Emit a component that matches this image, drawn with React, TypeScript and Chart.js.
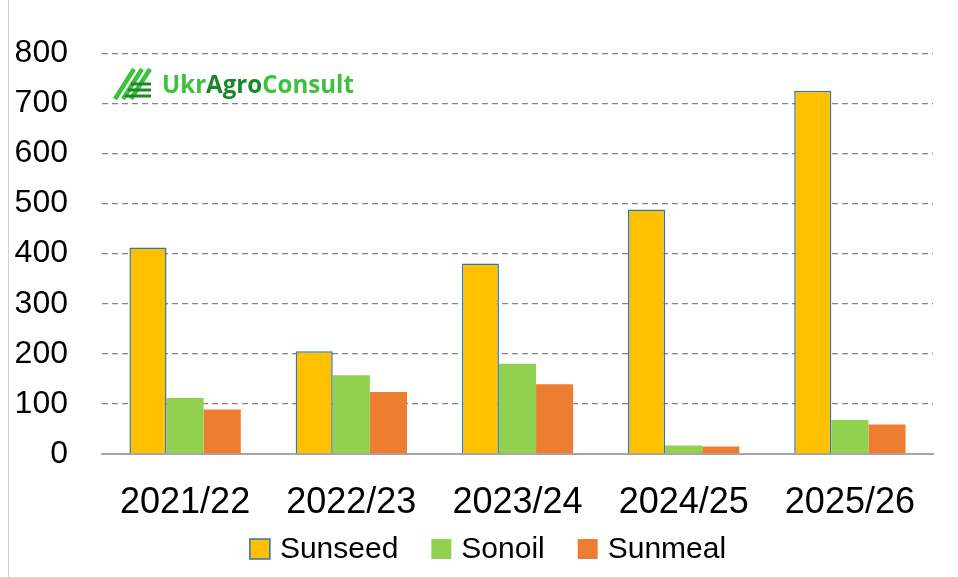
import React, { useEffect, useRef } from "react";
import { Chart, registerables } from "chart.js";

Chart.register(...registerables);

const categories = ["2021/22", "2022/23", "2023/24", "2024/25", "2025/26"];
const sunseed = [412, 205, 380, 488, 725];
const sonoil = [112, 157, 180, 17, 68];
const sunmeal = [89, 124, 139, 15, 59];
const seriesNames = ["Sunseed", "Sonoil", "Sunmeal"];
const yTicks = [0, 100, 200, 300, 400, 500, 600, 700, 800];

const FONT = "'Liberation Sans', Arial, sans-serif";

const decorPlugin = {
  id: "decor",
  beforeDraw(chart: any) {
    const ctx = chart.ctx;
    ctx.save();
    ctx.fillStyle = "#ffffff";
    ctx.fillRect(0, 0, chart.width, chart.height);
    ctx.strokeStyle = "#d0d0d0";
    ctx.lineWidth = 1;
    ctx.beginPath();
    ctx.moveTo(8.5, 0);
    ctx.lineTo(8.5, chart.height);
    ctx.stroke();
    ctx.restore();
  },
  afterDraw(chart: any) {
    const ctx = chart.ctx;
    ctx.save();
    // logo icon
    const light = "#3cc13c";
    const dark = "#1c862b";
    ctx.lineCap = "butt";
    ctx.strokeStyle = light;
    ctx.lineWidth = 4.5;
    for (let i = 0; i < 3; i++) {
      const ox = 115 + i * 8;
      ctx.beginPath();
      ctx.moveTo(ox, 99);
      ctx.lineTo(ox + 19, 69);
      ctx.stroke();
    }
    ctx.strokeStyle = dark;
    ctx.lineWidth = 3;
    for (let i = 0; i < 3; i++) {
      const y = 84 + i * 6;
      ctx.beginPath();
      ctx.moveTo(131 - i * 3, y);
      ctx.lineTo(151, y);
      ctx.stroke();
    }
    // logo text
    const parts = [
      { t: "Ukr", c: light },
      { t: "Agro", c: dark },
      { t: "Consult", c: light },
    ];
    let size = 22;
    ctx.font = `bold ${size}px 'Open Sans', ${FONT}`;
    const full = ctx.measureText("UkrAgroConsult").width;
    size = (size * 192) / full;
    ctx.font = `bold ${size}px 'Open Sans', ${FONT}`;
    ctx.textBaseline = "middle";
    let x = 162;
    for (const p of parts) {
      ctx.fillStyle = p.c;
      ctx.fillText(p.t, x, 86);
      x += ctx.measureText(p.t).width;
    }

    // legend
    ctx.font = `30px ${FONT}`;
    ctx.textBaseline = "middle";
    const ds = chart.data.datasets;
    const box = 20;
    const gapText = 10;
    const gapItem = 33;
    const widths = ds.map((d: any) => box + gapText + ctx.measureText(d.label).width);
    const total = widths.reduce((a: number, b: number) => a + b, 0) + gapItem * (ds.length - 1);
    let lx = 488 - total / 2;
    const cy = 549;
    ds.forEach((d: any, i: number) => {
      ctx.fillStyle = d.backgroundColor;
      ctx.fillRect(lx, cy - box / 2, box, box);
      if (d.borderWidth > 0) {
        ctx.strokeStyle = d.borderColor;
        ctx.lineWidth = 1.5;
        ctx.strokeRect(lx, cy - box / 2, box, box);
      }
      ctx.fillStyle = "#000";
      ctx.fillText(d.label, lx + box + gapText, cy + 1);
      lx += widths[i] + gapItem;
    });
    ctx.restore();
  },
};

export default function App() {
  const ref = useRef<HTMLCanvasElement | null>(null);
  useEffect(() => {
    if (!ref.current) return;
    const chart = new Chart(ref.current, {
      type: "bar",
      data: {
        labels: categories,
        datasets: [
          {
            label: seriesNames[0],
            data: sunseed,
            backgroundColor: "#FFC000",
            borderColor: "#2E75B6",
            borderWidth: 1.5,
          },
          {
            label: seriesNames[1],
            data: sonoil,
            backgroundColor: "#92D050",
            borderColor: "#92D050",
            borderWidth: 0,
          },
          {
            label: seriesNames[2],
            data: sunmeal,
            backgroundColor: "#ED7D31",
            borderColor: "#ED7D31",
            borderWidth: 0,
          },
        ],
      },
      options: {
        responsive: false,
        animation: false,
        devicePixelRatio: 1,
        datasets: {
          bar: { categoryPercentage: 0.67, barPercentage: 1 },
        },
        layout: { padding: { top: 52, right: 25, left: 0, bottom: 43 } },
        plugins: {
          tooltip: { enabled: false },
          legend: { display: false },
        },
        scales: {
          x: {
            afterFit(scale: any) {
              scale.height = 80;
            },
            grid: { display: false, drawTicks: false },
            border: { display: true, color: "#a6a6a6", width: 2 },
            ticks: {
              font: { family: FONT, size: 36 },
              color: "#000",
              padding: 27,
              maxRotation: 0,
            },
          },
          y: {
            min: 0,
            max: 800,
            afterBuildTicks(scale: any) {
              scale.ticks = yTicks.map((v) => ({ value: v }));
            },
            afterFit(scale: any) {
              scale.width = 102;
            },
            grid: {
              color: "#858585",
              lineWidth: 1.3,
              drawTicks: false,
            },
            border: { display: false, dash: [6, 4] },
            ticks: {
              font: { family: FONT, size: 32 },
              color: "#000",
              padding: 34,
            },
          },
        },
      },
      plugins: [decorPlugin],
    });
    return () => chart.destroy();
  }, []);
  return (
    <div style={{ position: "fixed", left: 0, top: 0, width: 958, height: 577 }}>
      <canvas ref={ref} width={958} height={577} />
    </div>
  );
}
